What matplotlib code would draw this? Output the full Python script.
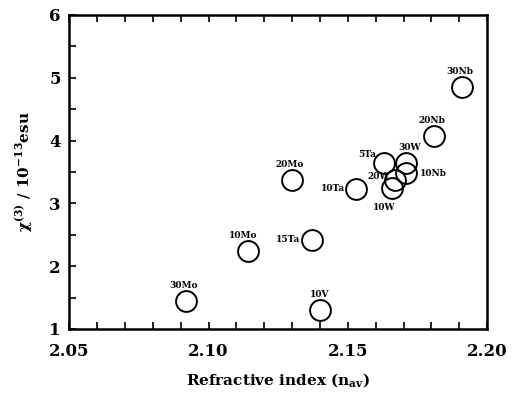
import matplotlib
matplotlib.use("Agg")
import matplotlib.pyplot as plt
from matplotlib.ticker import MultipleLocator

# sample name, refractive index, chi(3) in 1e-13 esu
names = ["30Nb", "20Nb", "20Mo", "10Mo", "30Mo", "15Ta", "10V",
         "5Ta", "10Ta", "30W", "10Nb", "20W", "10W"]
n_av = [2.191, 2.181, 2.130, 2.114, 2.092, 2.137, 2.140,
        2.163, 2.153, 2.171, 2.171, 2.167, 2.166]
chi3 = [4.85, 4.07, 3.38, 2.24, 1.45, 2.42, 1.30,
        3.64, 3.23, 3.64, 3.48, 3.38, 3.25]

# label offsets in points (dx, dy) and alignment
label_pos = {
    "30Nb": (-2, 11, "center"), "20Nb": (-2, 11, "center"),
    "20Mo": (-2, 11, "center"), "10Mo": (-3, 11, "center"),
    "30Mo": (-2, 11, "center"), "15Ta": (-8, 0, "right"),
    "10V": (0, 11, "center"), "5Ta": (-6, 6, "right"),
    "10Ta": (-8, 0, "right"), "30W": (2, 11, "center"),
    "10Nb": (10, 0, "left"), "20W": (-4, 2, "right"),
    "10W": (-6, -14, "center"),
}

plt.rcParams["font.family"] = ["DejaVu Serif"]
plt.rcParams["font.weight"] = "bold"
plt.rcParams["mathtext.default"] = "regular"

fig = plt.figure(figsize=(5.2, 3.94), dpi=100)
ax = fig.add_axes([0.133, 0.165, 0.804, 0.797])

ax.plot(n_av, chi3, linestyle="none", marker="o", markersize=15,
        markerfacecolor="none", markeredgecolor="black", markeredgewidth=1.4)

for name, x, y in zip(names, n_av, chi3):
    dx, dy, ha = label_pos[name]
    ax.annotate(name, (x, y), xytext=(dx, dy), textcoords="offset points",
                ha=ha, va="center", fontsize=6.5, fontweight="bold")

ax.set_xlim(2.05, 2.20)
ax.set_ylim(1, 6)
ax.set_xticks([2.05, 2.10, 2.15, 2.20])
ax.set_xticklabels(["2.05", "2.10", "2.15", "2.20"])
ax.set_yticks([1, 2, 3, 4, 5, 6])
ax.xaxis.set_minor_locator(MultipleLocator(0.01))
ax.yaxis.set_minor_locator(MultipleLocator(0.5))
ax.tick_params(which="both", direction="in", top=True, right=False,
               labelsize=12, width=1.2, length=5)
ax.tick_params(axis="x", which="major", pad=10)
ax.tick_params(axis="y", which="major", pad=6)

for s in ax.spines.values():
    s.set_linewidth(1.8)

ax.set_xlabel("Refractive index (n$_{av}$)", fontsize=11, fontweight="bold",
              labelpad=8)
ax.set_ylabel("χ$^{(3)}$ / 10$^{-13}$esu", fontsize=11, fontweight="bold",
              labelpad=10)

fig.savefig("out.png", dpi=100)
